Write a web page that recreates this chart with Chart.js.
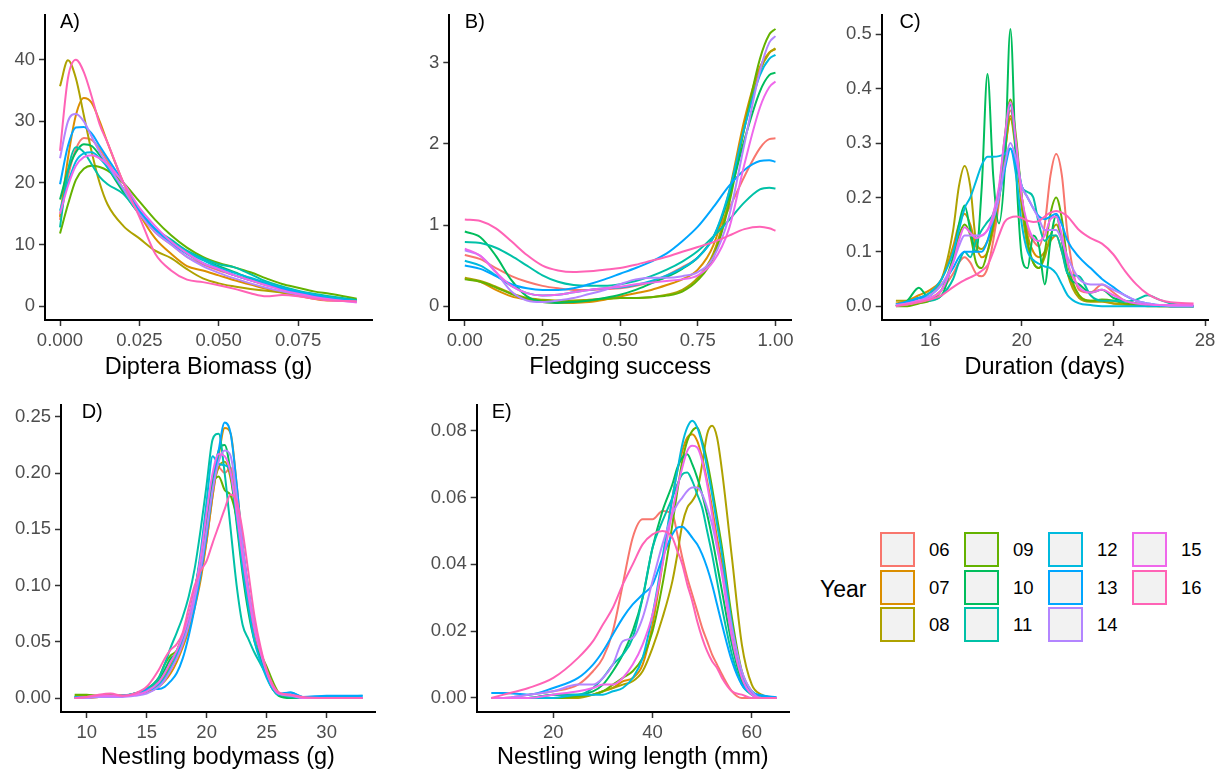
<!DOCTYPE html>
<html>
<head>
<meta charset="utf-8">
<script src="https://cdn.jsdelivr.net/npm/chart.js@4.4.1/dist/chart.umd.min.js"></script>
<style>
  body { margin: 0; background: #fff; width: 1221px; height: 773px; position: relative; overflow: hidden; font-family: "Liberation Sans", Arial, sans-serif; }
  canvas { position: absolute; }
  .key { position: absolute; width: 35px; height: 35px; box-sizing: border-box; border: 2px solid; background: #F2F2F2; }
  .lab { position: absolute; font-size: 18.5px; line-height: 1; color: #000; transform: translateY(-50%); }
  #yearTitle { position: absolute; left: 820px; top: 589px; font-size: 23px; line-height: 1; transform: translateY(-50%); }
</style>
</head>
<body>
<canvas id="pA" width="380" height="385" style="left:0;top:0"></canvas>
<canvas id="pB" width="400" height="385" style="left:400px;top:0"></canvas>
<canvas id="pC" width="401" height="385" style="left:820px;top:0"></canvas>
<canvas id="pD" width="380" height="383" style="left:0;top:390px"></canvas>
<canvas id="pE" width="400" height="383" style="left:400px;top:390px"></canvas>
<div id="legend"><div id="yearTitle">Year</div></div>
<script>
const years = ['06', '07', '08', '09', '10', '11', '12', '13', '14', '15', '16']
const colors = ['#F8766D', '#DB8E00', '#AEA200', '#64B200', '#00BD5C', '#00C1A7', '#00BADE', '#00A6FF', '#B385FF', '#EF67EB', '#FF63B6']

// A) Diptera biomass, one row per year (06..16)
const biomassX = [0, 0.0025, 0.005, 0.0075, 0.01, 0.0125, 0.015, 0.02, 0.025, 0.03, 0.035, 0.04, 0.045, 0.05, 0.055, 0.06, 0.065, 0.07, 0.075, 0.08, 0.085, 0.0935]
const biomassDens = [
  [14, 21, 25.5, 27.3, 27, 25.5, 23.5, 19, 15, 12, 10, 8, 6.8, 5.8, 5, 4.2, 3.4, 2.8, 2.2, 1.7, 1.3, 0.9],
  [14.5, 24, 31, 33.8, 33, 30, 26.5, 20, 15, 11, 8.5, 6.5, 5.8, 5, 4.2, 3.5, 2.8, 2.2, 1.7, 1.2, 0.9, 0.9],
  [35.7, 39.9, 37, 31, 25, 20, 16.5, 13, 11, 9, 7.8, 6, 4.5, 3.7, 3.2, 2.8, 2.5, 2.2, 1.9, 1.6, 1.3, 0.9],
  [11.8, 16.5, 20.5, 22.3, 22.8, 22.6, 22, 20, 17, 14, 11.5, 9.5, 8, 7, 6.3, 5.5, 4.5, 3.6, 3, 2.4, 2, 1.2],
  [17.3, 22, 25, 26.3, 26, 24.5, 22.5, 18.5, 15, 12.5, 10.5, 8.8, 7.5, 6.5, 5.5, 4.5, 3.6, 2.9, 2.3, 1.8, 1.4, 0.9],
  [12.8, 22, 25.8, 25, 23, 21, 19.8, 18.2, 15, 12.5, 10.8, 9, 7.8, 6.8, 6.3, 5.2, 4, 3.2, 2.5, 2, 1.6, 1.0],
  [15.5, 20, 23.5, 24.8, 25, 24, 22.5, 19, 15.5, 12.5, 10.5, 8.8, 7.5, 6.3, 5.4, 4.6, 3.8, 3, 2.4, 1.9, 1.4, 0.8],
  [19.8, 26, 29, 29.1, 28, 26, 24, 20, 15.5, 12.5, 10.2, 8.5, 7, 6, 5, 4.2, 3.5, 2.8, 2.2, 1.7, 1.2, 0.8],
  [24, 30, 31.2, 30, 27.5, 25, 23, 19, 15, 12, 10, 8, 6.5, 5.4, 4.5, 3.7, 3, 2.4, 1.9, 1.4, 1, 0.7],
  [15, 19.5, 22.8, 24.2, 24.5, 24, 23, 20, 16, 13, 10.5, 8.6, 7, 6, 5, 4.2, 3.4, 2.6, 2, 1.5, 1.1, 0.6],
  [25.2, 37, 40, 38, 34, 29.5, 26.5, 20, 14.5, 8.5, 5.8, 4.3, 3.9, 3.4, 2.8, 2.1, 1.6, 1.8, 1.6, 1.2, 0.9, 0.8]
]

// B) Fledging success
const fledgeX = [0, 0.05, 0.1, 0.15, 0.2, 0.25, 0.3, 0.35, 0.4, 0.45, 0.5, 0.55, 0.6, 0.65, 0.7, 0.75, 0.8, 0.85, 0.9, 0.95, 0.98, 1]
const fledgeDens = [
  [0.63, 0.58, 0.47, 0.37, 0.3, 0.25, 0.22, 0.2, 0.2, 0.21, 0.22, 0.25, 0.3, 0.38, 0.48, 0.6, 0.85, 1.2, 1.6, 1.95, 2.06, 2.07],
  [0.34, 0.3, 0.2, 0.12, 0.08, 0.05, 0.04, 0.04, 0.05, 0.08, 0.12, 0.16, 0.2, 0.26, 0.33, 0.45, 0.75, 1.4, 2.3, 2.95, 3.13, 3.17],
  [0.35, 0.31, 0.24, 0.16, 0.1, 0.08, 0.07, 0.07, 0.08, 0.09, 0.1, 0.1, 0.11, 0.14, 0.2, 0.35, 0.65, 1.3, 2.2, 2.9, 3.12, 3.18],
  [0.33, 0.3, 0.23, 0.15, 0.09, 0.07, 0.06, 0.06, 0.07, 0.09, 0.1, 0.1, 0.11, 0.13, 0.18, 0.32, 0.6, 1.25, 2.2, 3.05, 3.35, 3.42],
  [0.92, 0.85, 0.62, 0.32, 0.12, 0.05, 0.04, 0.05, 0.07, 0.1, 0.14, 0.2, 0.28, 0.36, 0.46, 0.6, 0.85, 1.35, 2.05, 2.65, 2.85, 2.88],
  [0.79, 0.78, 0.72, 0.62, 0.5, 0.38, 0.3, 0.26, 0.25, 0.25, 0.27, 0.31, 0.37, 0.45, 0.55, 0.68, 0.86, 1.06, 1.28, 1.44, 1.46, 1.45],
  [0.56, 0.5, 0.38, 0.25, 0.16, 0.13, 0.14, 0.17, 0.2, 0.22, 0.23, 0.26, 0.31, 0.38, 0.47, 0.6, 0.85, 1.4, 2.2, 2.85, 3.05, 3.1],
  [0.5, 0.46, 0.37, 0.27, 0.22, 0.2, 0.2, 0.22, 0.27, 0.33, 0.4, 0.47, 0.55, 0.65, 0.8, 0.98, 1.22, 1.48, 1.68, 1.79, 1.8, 1.78],
  [0.69, 0.62, 0.42, 0.18, 0.07, 0.05, 0.07, 0.1, 0.15, 0.2, 0.27, 0.33, 0.35, 0.35, 0.37, 0.42, 0.6, 1.1, 2.0, 2.9, 3.25, 3.33],
  [0.71, 0.62, 0.42, 0.25, 0.16, 0.13, 0.14, 0.17, 0.2, 0.22, 0.24, 0.27, 0.29, 0.31, 0.33, 0.38, 0.55, 0.95, 1.75, 2.45, 2.7, 2.77],
  [1.07, 1.05, 0.96, 0.8, 0.63, 0.5, 0.44, 0.42, 0.43, 0.45, 0.47, 0.51, 0.56, 0.61, 0.67, 0.73, 0.79, 0.87, 0.95, 0.98, 0.96, 0.93]
]

// C) Duration (days)
const durationX = [14.5, 15, 15.5, 16, 16.5, 17, 17.25, 17.5, 17.75, 18, 18.25, 18.5, 18.75, 19, 19.25, 19.5, 19.75, 20, 20.25, 20.5, 20.75, 21, 21.25, 21.5, 21.75, 22, 22.5, 23, 23.5, 24, 24.5, 25, 25.5, 26, 26.5, 27.5]
const durationDens = [
  [0, 0.005, 0.01, 0.015, 0.03, 0.06, 0.08, 0.09, 0.08, 0.06, 0.055, 0.07, 0.12, 0.19, 0.29, 0.36, 0.3, 0.2, 0.14, 0.12, 0.11, 0.15, 0.24, 0.28, 0.24, 0.13, 0.03, 0.025, 0.04, 0.025, 0.01, 0.005, 0.003, 0.002, 0.001, 0],
  [0.005, 0.01, 0.02, 0.03, 0.05, 0.11, 0.15, 0.17, 0.15, 0.11, 0.09, 0.1, 0.14, 0.2, 0.28, 0.35, 0.29, 0.2, 0.13, 0.1, 0.09, 0.1, 0.12, 0.13, 0.1, 0.06, 0.02, 0.01, 0.01, 0.005, 0.003, 0.002, 0.001, 0, 0, 0],
  [0.01, 0.01, 0.015, 0.025, 0.05, 0.14, 0.22, 0.258, 0.22, 0.12, 0.105, 0.12, 0.15, 0.2, 0.28, 0.345, 0.28, 0.18, 0.11, 0.08, 0.07, 0.09, 0.13, 0.15, 0.12, 0.06, 0.015, 0.008, 0.008, 0.005, 0.003, 0.002, 0, 0, 0, 0],
  [0, 0, 0.005, 0.01, 0.03, 0.09, 0.13, 0.15, 0.13, 0.08, 0.07, 0.1, 0.15, 0.21, 0.31, 0.38, 0.31, 0.2, 0.12, 0.08, 0.07, 0.1, 0.17, 0.2, 0.16, 0.08, 0.02, 0.01, 0.012, 0.01, 0.005, 0.003, 0.002, 0.001, 0, 0],
  [0, 0.01, 0.034, 0.012, 0.02, 0.09, 0.15, 0.185, 0.14, 0.1, 0.22, 0.427, 0.24, 0.152, 0.25, 0.51, 0.25, 0.09, 0.07, 0.13, 0.11, 0.04, 0.12, 0.167, 0.12, 0.06, 0.04, 0.025, 0.03, 0.015, 0.01, 0.005, 0.003, 0.001, 0, 0],
  [0, 0.005, 0.015, 0.01, 0.02, 0.05, 0.08, 0.1, 0.09, 0.12, 0.14, 0.155, 0.17, 0.21, 0.3, 0.37, 0.29, 0.22, 0.21, 0.2, 0.15, 0.12, 0.13, 0.13, 0.1, 0.06, 0.055, 0.02, 0.01, 0.01, 0.008, 0.012, 0.02, 0.012, 0.005, 0],
  [0.003, 0.008, 0.015, 0.025, 0.05, 0.1, 0.14, 0.18, 0.2, 0.23, 0.26, 0.275, 0.275, 0.276, 0.28, 0.29, 0.24, 0.15, 0.1, 0.085, 0.078, 0.073, 0.07, 0.06, 0.04, 0.02, 0.005, 0.002, 0, 0, 0, 0, 0, 0, 0, 0],
  [0.003, 0.008, 0.015, 0.02, 0.04, 0.07, 0.09, 0.1, 0.1, 0.1, 0.1, 0.12, 0.16, 0.2, 0.25, 0.29, 0.26, 0.22, 0.2, 0.18, 0.165, 0.16, 0.165, 0.17, 0.15, 0.12, 0.09, 0.07, 0.05, 0.035, 0.02, 0.01, 0.005, 0.002, 0, 0],
  [0.002, 0.005, 0.01, 0.02, 0.04, 0.08, 0.11, 0.13, 0.13, 0.13, 0.13, 0.14, 0.16, 0.2, 0.26, 0.3, 0.27, 0.22, 0.2, 0.18, 0.16, 0.14, 0.14, 0.14, 0.12, 0.09, 0.05, 0.04, 0.04, 0.03, 0.02, 0.01, 0.005, 0.002, 0, 0],
  [0, 0.005, 0.01, 0.015, 0.03, 0.08, 0.12, 0.145, 0.135, 0.125, 0.13, 0.14, 0.17, 0.22, 0.31, 0.375, 0.3, 0.2, 0.15, 0.125, 0.12, 0.13, 0.16, 0.165, 0.13, 0.08, 0.035, 0.025, 0.03, 0.02, 0.01, 0.005, 0.003, 0.002, 0.002, 0.002],
  [0, 0.003, 0.007, 0.012, 0.02, 0.035, 0.042, 0.048, 0.053, 0.058, 0.065, 0.075, 0.1, 0.13, 0.155, 0.163, 0.165, 0.162, 0.157, 0.155, 0.157, 0.165, 0.172, 0.175, 0.172, 0.165, 0.14, 0.125, 0.115, 0.095, 0.065, 0.04, 0.022, 0.012, 0.007, 0.005]
]

// D) Nestling bodymass (g)
const massX = [9, 10, 11, 12, 13, 14, 15, 16, 16.5, 17, 17.5, 18, 18.5, 19, 19.5, 20, 20.5, 21, 21.5, 22, 22.5, 23, 23.5, 24, 24.5, 25, 25.5, 26, 27, 28, 30, 33]
const massDens = [
  [0, 0.001, 0.002, 0.003, 0.002, 0.003, 0.005, 0.01, 0.017, 0.026, 0.037, 0.05, 0.066, 0.085, 0.11, 0.14, 0.18, 0.205, 0.2, 0.205, 0.17, 0.125, 0.09, 0.06, 0.04, 0.022, 0.01, 0.004, 0.001, 0, 0, 0],
  [0, 0, 0.001, 0.002, 0.002, 0.003, 0.005, 0.01, 0.015, 0.022, 0.032, 0.045, 0.06, 0.08, 0.105, 0.14, 0.18, 0.215, 0.24, 0.235, 0.19, 0.135, 0.095, 0.062, 0.04, 0.02, 0.008, 0.003, 0.001, 0, 0, 0],
  [0.002, 0.002, 0.002, 0.002, 0.002, 0.003, 0.006, 0.012, 0.02, 0.03, 0.042, 0.056, 0.072, 0.09, 0.115, 0.15, 0.185, 0.205, 0.21, 0.195, 0.16, 0.12, 0.088, 0.058, 0.038, 0.022, 0.01, 0.004, 0.001, 0, 0, 0],
  [0.003, 0.003, 0.002, 0.002, 0.002, 0.004, 0.008, 0.018, 0.03, 0.038, 0.042, 0.055, 0.072, 0.095, 0.125, 0.16, 0.19, 0.197, 0.185, 0.18, 0.16, 0.125, 0.09, 0.06, 0.04, 0.028, 0.015, 0.005, 0.001, 0, 0, 0],
  [0.001, 0.001, 0.001, 0.002, 0.002, 0.003, 0.006, 0.015, 0.025, 0.035, 0.04, 0.05, 0.07, 0.095, 0.125, 0.16, 0.195, 0.22, 0.225, 0.2, 0.155, 0.11, 0.075, 0.05, 0.035, 0.02, 0.008, 0.002, 0, 0, 0, 0],
  [0.001, 0.001, 0.001, 0.002, 0.002, 0.004, 0.008, 0.018, 0.03, 0.045, 0.058, 0.072, 0.09, 0.115, 0.15, 0.19, 0.23, 0.235, 0.2, 0.15, 0.1, 0.065, 0.052, 0.04, 0.03, 0.02, 0.01, 0.004, 0.001, 0, 0, 0],
  [0.001, 0.001, 0.001, 0.001, 0.002, 0.004, 0.007, 0.012, 0.018, 0.027, 0.038, 0.052, 0.07, 0.095, 0.13, 0.175, 0.215, 0.208, 0.207, 0.2, 0.16, 0.115, 0.08, 0.05, 0.032, 0.018, 0.008, 0.003, 0.005, 0.001, 0.001, 0.002],
  [0, 0.001, 0.001, 0.001, 0.002, 0.003, 0.008, 0.008, 0.01, 0.015, 0.022, 0.035, 0.055, 0.08, 0.11, 0.145, 0.185, 0.22, 0.245, 0.235, 0.19, 0.135, 0.095, 0.062, 0.04, 0.022, 0.01, 0.004, 0.005, 0.001, 0.002, 0.002],
  [0, 0, 0.001, 0.001, 0.001, 0.002, 0.004, 0.01, 0.016, 0.025, 0.035, 0.048, 0.065, 0.088, 0.115, 0.15, 0.185, 0.21, 0.22, 0.215, 0.18, 0.135, 0.095, 0.065, 0.042, 0.024, 0.011, 0.004, 0.002, 0, 0, 0],
  [0, 0.001, 0.002, 0.002, 0.002, 0.003, 0.006, 0.014, 0.022, 0.032, 0.042, 0.055, 0.072, 0.095, 0.125, 0.165, 0.2, 0.217, 0.215, 0.2, 0.165, 0.125, 0.09, 0.06, 0.04, 0.023, 0.01, 0.004, 0.003, 0, 0, 0],
  [0, 0.001, 0.003, 0.004, 0.002, 0.004, 0.01, 0.025, 0.035, 0.043, 0.048, 0.058, 0.08, 0.1, 0.113, 0.122, 0.138, 0.153, 0.168, 0.181, 0.175, 0.148, 0.11, 0.072, 0.045, 0.025, 0.012, 0.005, 0.003, 0.001, 0, 0]
]

// E) Nestling wing length (mm)
const wingX = [7.5, 10, 15, 20, 25, 28, 30, 32, 34, 36, 38, 40, 42, 44, 45, 46, 47, 48, 49, 50, 51, 52, 53, 54, 56, 58, 60, 62, 65]
const wingDens = [
  [0, 0, 0.001, 0.002, 0.004, 0.008, 0.012, 0.02, 0.034, 0.048, 0.0535, 0.0535, 0.056, 0.055, 0.049, 0.042, 0.036, 0.031, 0.026, 0.021, 0.017, 0.013, 0.01, 0.007, 0.002, 0, 0, 0, 0],
  [0, 0, 0, 0, 0.0005, 0.001, 0.002, 0.003, 0.005, 0.006, 0.01, 0.022, 0.04, 0.06, 0.068, 0.074, 0.078, 0.079, 0.077, 0.072, 0.065, 0.057, 0.048, 0.04, 0.021, 0.007, 0.0015, 0, 0],
  [0, 0, 0, 0, 0, 0.001, 0.002, 0.003, 0.004, 0.005, 0.008, 0.015, 0.024, 0.035, 0.043, 0.052, 0.057, 0.059, 0.062, 0.07, 0.079, 0.0815, 0.078, 0.068, 0.042, 0.016, 0.004, 0.001, 0],
  [0, 0, 0, 0, 0.0005, 0.001, 0.002, 0.004, 0.006, 0.008, 0.012, 0.02, 0.034, 0.052, 0.062, 0.071, 0.077, 0.08, 0.081, 0.077, 0.071, 0.063, 0.054, 0.045, 0.024, 0.008, 0.002, 0, 0],
  [0, 0, 0, 0.001, 0.001, 0.002, 0.004, 0.008, 0.013, 0.02, 0.03, 0.045, 0.056, 0.064, 0.069, 0.072, 0.073, 0.07, 0.066, 0.061, 0.055, 0.048, 0.04, 0.032, 0.016, 0.005, 0.001, 0, 0],
  [0, 0, 0, 0.001, 0.001, 0.003, 0.006, 0.01, 0.013, 0.018, 0.03, 0.045, 0.053, 0.06, 0.064, 0.067, 0.0675, 0.065, 0.061, 0.057, 0.05, 0.043, 0.035, 0.027, 0.013, 0.004, 0.001, 0, 0],
  [0, 0, 0, 0, 0.001, 0.001, 0.001, 0.002, 0.003, 0.006, 0.012, 0.025, 0.042, 0.06, 0.068, 0.076, 0.081, 0.083, 0.081, 0.076, 0.069, 0.061, 0.052, 0.043, 0.022, 0.007, 0.002, 0.0005, 0],
  [0.0015, 0.0015, 0.001, 0.003, 0.006, 0.01, 0.014, 0.019, 0.024, 0.028, 0.031, 0.034, 0.042, 0.049, 0.051, 0.0513, 0.05, 0.048, 0.046, 0.043, 0.039, 0.034, 0.028, 0.022, 0.011, 0.004, 0.0015, 0.0008, 0.0002],
  [0, 0, 0.001, 0.002, 0.004, 0.004, 0.006, 0.01, 0.017, 0.018, 0.024, 0.035, 0.046, 0.055, 0.058, 0.06, 0.062, 0.063, 0.063, 0.061, 0.057, 0.052, 0.045, 0.038, 0.021, 0.008, 0.002, 0, 0],
  [0, 0, 0, 0.001, 0.002, 0.003, 0.004, 0.004, 0.006, 0.01, 0.016, 0.025, 0.04, 0.056, 0.063, 0.069, 0.074, 0.0755, 0.075, 0.071, 0.064, 0.055, 0.046, 0.037, 0.018, 0.006, 0.001, 0, 0],
  [0, 0.001, 0.003, 0.006, 0.012, 0.017, 0.022, 0.027, 0.034, 0.04, 0.046, 0.049, 0.05, 0.048, 0.044, 0.04, 0.034, 0.029, 0.023, 0.018, 0.014, 0.011, 0.009, 0.006, 0.002, 0.001, 0, 0, 0]
]

// tick labels
const biomassTicks = [0, 0.025, 0.05, 0.075]
const biomassYTicks = [0, 10, 20, 30, 40]
const fledgeTicks = [0, 0.25, 0.5, 0.75, 1]
const fledgeYTicks = [0, 1, 2, 3]
const durationTicks = [16, 20, 24, 28]
const durationYTicks = [0, 0.1, 0.2, 0.3, 0.4, 0.5]
const massTicks = [10, 15, 20, 25, 30]
const massYTicks = [0, 0.05, 0.1, 0.15, 0.2, 0.25]
const wingTicks = [20, 40, 60]
const wingYTicks = [0, 0.02, 0.04, 0.06, 0.08]

const FONT = '"Liberation Sans", Arial, sans-serif'

// panel letter, drawn inside the plot
const tagPlugin = {
  id: 'tag',
  afterDraw(chart, args, opts) {
    const ctx = chart.ctx
    ctx.save()
    ctx.font = '20px ' + FONT
    ctx.fillStyle = '#000'
    ctx.textAlign = 'left'
    ctx.textBaseline = 'middle'
    ctx.fillText(opts.text, chart.scales.x.getPixelForValue(opts.x), chart.chartArea.top + 7)
    ctx.restore()
  }
}

function axis(min, max, ticks, fmt, size, title, titlePad) {
  return {
    type: 'linear',
    min: min,
    max: max,
    afterBuildTicks: s => { s.ticks = ticks.map(v => ({ value: v })) },
    afterFit: s => { if (s.isHorizontal()) s.height = size; else s.width = size },
    grid: { display: true, drawOnChartArea: false, drawTicks: true, tickLength: 6, tickWidth: 1.5, tickColor: '#333333' },
    border: { display: true, color: '#000000', width: 2 },
    ticks: { color: '#4D4D4D', font: { family: FONT, size: 18.5 }, padding: 4, maxRotation: 0, autoSkip: false, callback: fmt },
    title: title
      ? { display: true, text: title, color: '#000', font: { family: FONT, size: 23.5 }, padding: { top: 0, bottom: titlePad } }
      : { display: false }
  }
}

function drawPanel(id, p) {
  new Chart(document.getElementById(id), {
    type: 'line',
    data: {
      datasets: years.map((yr, i) => ({
        label: yr,
        data: p.xs.map((x, j) => ({ x: x, y: p.ys[i][j] })),
        borderColor: colors[i],
        borderWidth: 2,
        pointRadius: 0,
        fill: false,
        cubicInterpolationMode: 'monotone',
        order: years.length - i
      }))
    },
    options: {
      responsive: false,
      animation: false,
      events: [],
      layout: { padding: p.pad },
      plugins: {
        legend: { display: false },
        tooltip: { enabled: false },
        tag: { text: p.tag, x: p.tagX }
      },
      scales: { x: p.x, y: p.y }
    },
    plugins: [tagPlugin]
  })
}

const int = v => String(v)
const dec = n => v => Number(v).toFixed(n)

drawPanel('pA', {
  xs: biomassX, ys: biomassDens, tag: 'A)', tagX: 0,
  pad: { left: 0, top: 13, right: 8, bottom: 0 },
  x: axis(-0.00473, 0.0983, biomassTicks, dec(3), 65, 'Diptera Biomass (g)', 3.5),
  y: axis(-2.25, 47.25, biomassYTicks, int, 45)
})
drawPanel('pB', {
  xs: fledgeX, ys: fledgeDens, tag: 'B)', tagX: 0,
  pad: { left: 0, top: 13, right: 9, bottom: 0 },
  x: axis(-0.05, 1.05, fledgeTicks, dec(2), 65, 'Fledging success', 3.5),
  y: axis(-0.171, 3.59, fledgeYTicks, int, 49.3)
})
drawPanel('pC', {
  xs: durationX, ys: durationDens, tag: 'C)', tagX: 14.66,
  pad: { left: 0, top: 13, right: 13, bottom: 0 },
  x: axis(13.88, 28.13, durationTicks, int, 65, 'Duration (days)', 3.5),
  y: axis(-0.0255, 0.5355, durationYTicks, dec(1), 61.7)
})
drawPanel('pD', {
  xs: massX, ys: massDens, tag: 'D)', tagX: 9.58,
  pad: { left: 0, top: 14, right: 5, bottom: 0 },
  x: axis(7.86, 34.03, massTicks, int, 61, 'Nestling bodymass (g)', 1),
  y: axis(-0.0124, 0.2604, massYTicks, dec(2), 61)
})
drawPanel('pE', {
  xs: wingX, ys: wingDens, tag: 'E)', tagX: 7.58,
  pad: { left: 0, top: 14, right: 11, bottom: 0 },
  x: axis(4.56, 67.5, wingTicks, int, 61, 'Nestling wing length (mm)', 1),
  y: axis(-0.0042, 0.0877, wingYTicks, dec(2), 76.7)
})

// legend: 4 columns x 3 rows, filled column by column
const legend = document.getElementById('legend')
years.forEach((yr, i) => {
  const col = Math.floor(i / 3)
  const row = i % 3
  const key = document.createElement('div')
  key.className = 'key'
  key.style.left = (880 + col * 84) + 'px'
  key.style.top = (532 + row * 37.7) + 'px'
  key.style.borderColor = colors[i]
  legend.appendChild(key)
  const lab = document.createElement('div')
  lab.className = 'lab'
  lab.style.left = (929 + col * 84) + 'px'
  lab.style.top = (550 + row * 37.7) + 'px'
  lab.textContent = yr
  legend.appendChild(lab)
})
</script>
</body>
</html>
